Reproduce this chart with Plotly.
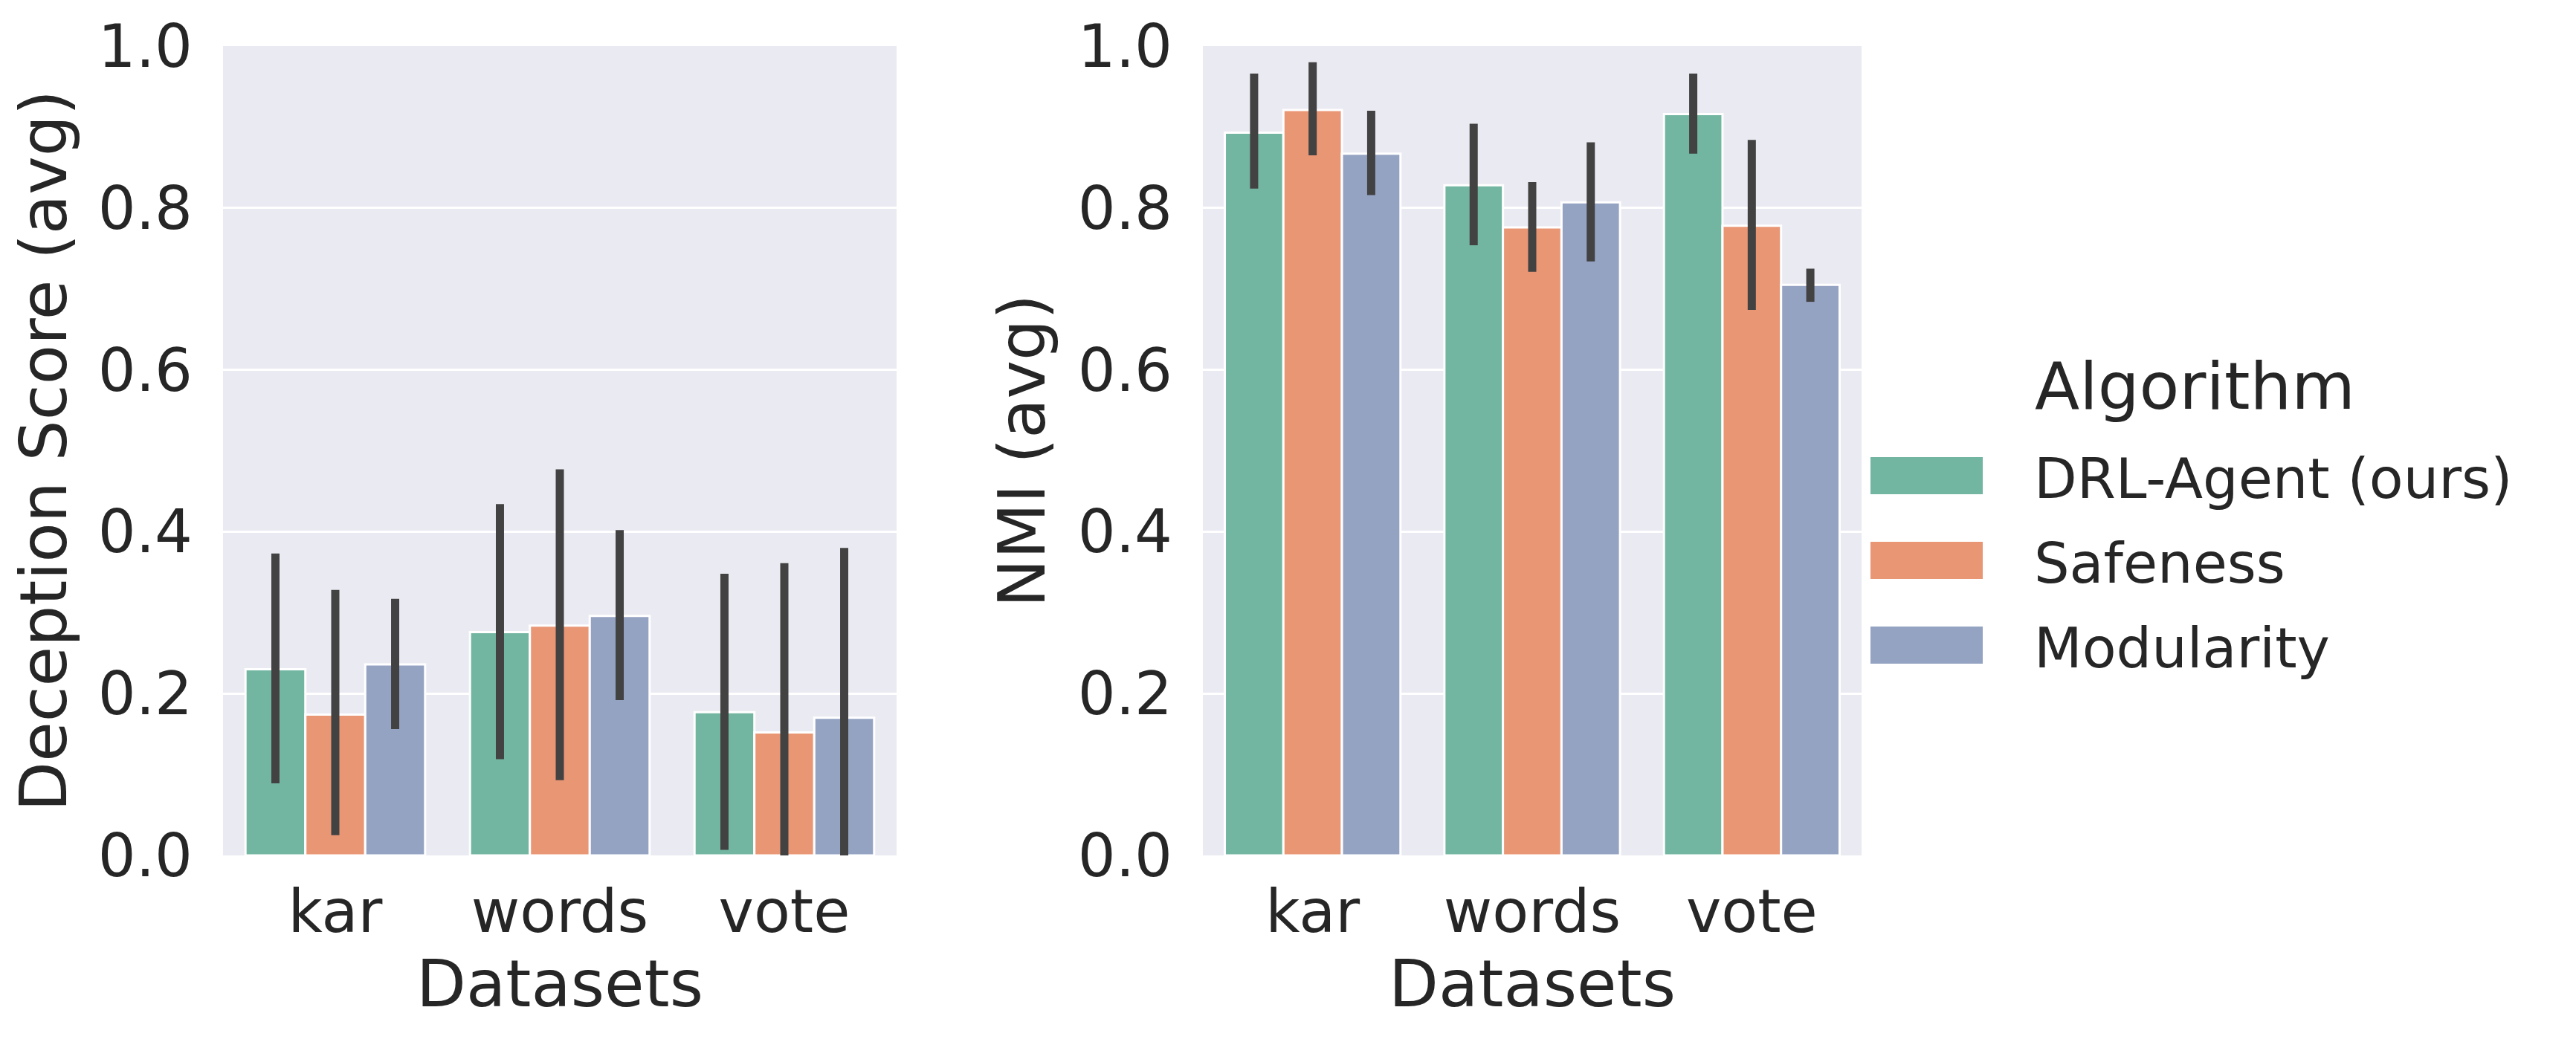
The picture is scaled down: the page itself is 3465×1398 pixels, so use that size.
import plotly.graph_objects as go

# categories and series
datasets = ["kar", "words", "vote"]
algorithms = ["DRL-Agent (ours)", "Safeness", "Modularity"]
colors = ["#72b6a1", "#e99675", "#95a3c3"]

# Deception score (avg): means and CI bounds
dec_drl = [0.230, 0.276, 0.177]
dec_safe = [0.174, 0.284, 0.152]
dec_mod = [0.236, 0.296, 0.170]
dec_drl_lo = [0.089, 0.119, 0.007]
dec_drl_hi = [0.373, 0.434, 0.348]
dec_safe_lo = [0.025, 0.093, 0.0]
dec_safe_hi = [0.328, 0.477, 0.361]
dec_mod_lo = [0.156, 0.192, 0.0]
dec_mod_hi = [0.317, 0.402, 0.380]

# NMI (avg): means and CI bounds
nmi_drl = [0.893, 0.828, 0.916]
nmi_safe = [0.921, 0.776, 0.778]
nmi_mod = [0.867, 0.807, 0.705]
nmi_drl_lo = [0.824, 0.754, 0.867]
nmi_drl_hi = [0.966, 0.904, 0.966]
nmi_safe_lo = [0.865, 0.721, 0.674]
nmi_safe_hi = [0.980, 0.832, 0.884]
nmi_mod_lo = [0.816, 0.734, 0.684]
nmi_mod_hi = [0.920, 0.881, 0.725]

yticks = [0.0, 0.2, 0.4, 0.6, 0.8, 1.0]

W, H = 3465, 1398
OFF = 8  # page body margin in the browser shifts the figure
TXT = "#262626"
FONT = "DejaVu Sans"


def px(x):
    return (x - OFF) / W


def py(y):
    return 1 - (y - OFF) / H


def add_bars(fig, means, los, his, xa, ya):
    for name, color, m, lo, hi in zip(algorithms, colors, means, los, his):
        fig.add_trace(go.Bar(
            x=datasets, y=m, name=name,
            marker=dict(color=color, line=dict(color="white", width=3)),
            error_y=dict(type="data", symmetric=False,
                         array=[h - v for h, v in zip(hi, m)],
                         arrayminus=[v - l for v, l in zip(m, lo)],
                         color="#424242", thickness=11, width=0),
            xaxis=xa, yaxis=ya, showlegend=False,
        ))


fig = go.Figure()
add_bars(fig, [dec_drl, dec_safe, dec_mod],
         [dec_drl_lo, dec_safe_lo, dec_mod_lo],
         [dec_drl_hi, dec_safe_hi, dec_mod_hi], "x", "y")
add_bars(fig, [nmi_drl, nmi_safe, nmi_mod],
         [nmi_drl_lo, nmi_safe_lo, nmi_mod_lo],
         [nmi_drl_hi, nmi_safe_hi, nmi_mod_hi], "x2", "y2")

ydom = [py(1151), py(62)]
xcommon = dict(showgrid=False, zeroline=False, showline=False, ticks="",
               automargin=False,
               tickfont=dict(size=80, color=TXT, family=FONT),
               ticklabelstandoff=22)
ycommon = dict(range=[0, 1], tickvals=yticks, tickformat=".1f",
               showgrid=True, gridcolor="white", gridwidth=3,
               zeroline=False, showline=False, ticks="",
               automargin=False,
               tickfont=dict(size=80, color=TXT, family=FONT),
               ticklabelstandoff=40)

fig.update_layout(
    width=W, height=H,
    margin=dict(l=0, r=0, t=0, b=0),
    paper_bgcolor="white",
    plot_bgcolor="#eaeaf2",
    barmode="group", bargap=0.2, bargroupgap=0,
    showlegend=False,
    font=dict(family=FONT, color=TXT),
    xaxis=dict(domain=[px(300), px(1206)], anchor="y",
               title=dict(text="Datasets", font=dict(size=87), standoff=20),
               **xcommon),
    xaxis2=dict(domain=[px(1618), px(2504)], anchor="y2",
                title=dict(text="Datasets", font=dict(size=87), standoff=20),
                **xcommon),
    yaxis=dict(domain=ydom, anchor="x",
               title=dict(text="Deception Score (avg)", font=dict(size=87),
                          standoff=15),
               **ycommon),
    yaxis2=dict(domain=ydom, anchor="x2",
                title=dict(text="NMI (avg)", font=dict(size=87), standoff=15),
                **ycommon),
)

# legend drawn as patches + labels to match the large seaborn legend
leg_y = [640, 754, 868]
for name, color, yc in zip(algorithms, colors, leg_y):
    fig.add_shape(type="rect", xref="paper", yref="paper",
                  x0=px(2516), x1=px(2667),
                  y0=py(yc + 25), y1=py(yc - 25),
                  fillcolor=color, line=dict(width=0))
    fig.add_annotation(x=px(2734), y=py(yc + 4), xref="paper", yref="paper",
                       text=name, showarrow=False, xanchor="left",
                       yanchor="middle",
                       font=dict(size=75, color=TXT, family=FONT))
fig.add_annotation(x=px(2952), y=py(519), xref="paper", yref="paper",
                   text="Algorithm", showarrow=False, xanchor="center",
                   yanchor="middle", font=dict(size=88, color=TXT, family=FONT))

fig.write_html("out.html")
